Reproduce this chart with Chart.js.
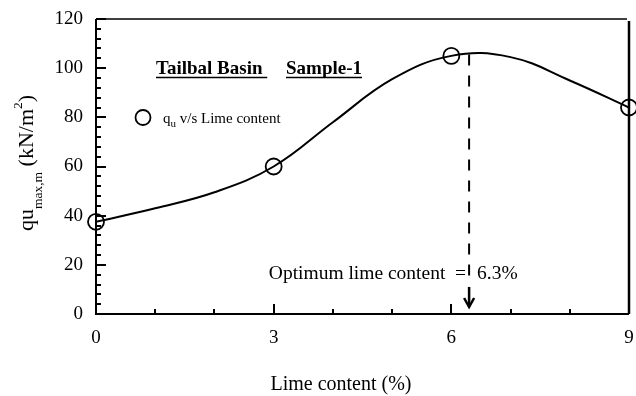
<!DOCTYPE html>
<html>
<head>
<meta charset="utf-8">
<script src="https://cdn.jsdelivr.net/npm/chart.js@4/dist/chart.umd.min.js"></script>
<style>
  html, body { margin: 0; padding: 0; background: #ffffff; }
  #wrap { width: 636px; height: 396px; position: relative; }
</style>
</head>
<body>
<div id="wrap"><canvas id="chart" width="636" height="396"></canvas></div>
<script>
// Measured points: unconfined strength vs lime content
const limeContent = [0, 3, 6, 9];
const quValues = [37.5, 60, 105, 84];

// Smooth fitted curve through the measured points
const fitLime = [0, 1, 2, 3, 4, 5, 6, 7, 8, 9];
const fitQu = [37.5, 43, 49.5, 60, 78, 95.5, 105, 104.5, 95, 84];

// Optimum marker
const optimumLime = 6.3;
const optimumQu = 105.6;
const optimumArrowEnd = 11;

// Axis ticks
const xTickValues = [0, 3, 6, 9];
const xMinorTicks = [1, 2, 4, 5, 7, 8];
const yTickValues = [0, 20, 40, 60, 80, 100, 120];
const yMinorTicks = [4, 8, 12, 16, 24, 28, 32, 36, 44, 48, 52, 56, 64, 68, 72, 76, 84, 88, 92, 96, 104, 108, 112, 116];

const SERIF = '"Liberation Serif", "Times New Roman", serif';

const frame = {
  id: 'frame',
  afterDatasetsDraw(chart) {
    const { ctx, chartArea: a, scales: { x, y } } = chart;
    ctx.save();
    ctx.strokeStyle = '#000';
    ctx.lineCap = 'butt';

    // axis box
    ctx.lineWidth = 2;
    ctx.beginPath(); ctx.moveTo(a.left, a.top); ctx.lineTo(a.left, a.bottom); ctx.lineTo(a.right, a.bottom); ctx.stroke();
    ctx.lineWidth = 1.5;
    ctx.beginPath(); ctx.moveTo(a.left, a.top); ctx.lineTo(a.right - 2, a.top); ctx.stroke();
    ctx.lineWidth = 2.5;
    ctx.beginPath(); ctx.moveTo(a.right, a.top + 2); ctx.lineTo(a.right, a.bottom); ctx.stroke();

    // inward ticks
    ctx.lineWidth = 2;
    yTickValues.forEach(v => {
      const py = Math.round(y.getPixelForValue(v));
      ctx.beginPath(); ctx.moveTo(a.left, py); ctx.lineTo(a.left + 10, py); ctx.stroke();
    });
    yMinorTicks.forEach(v => {
      const py = Math.round(y.getPixelForValue(v));
      ctx.beginPath(); ctx.moveTo(a.left, py); ctx.lineTo(a.left + 5, py); ctx.stroke();
    });
    xTickValues.forEach(v => {
      const px = Math.round(x.getPixelForValue(v));
      ctx.beginPath(); ctx.moveTo(px, a.bottom); ctx.lineTo(px, a.bottom - 10); ctx.stroke();
    });
    xMinorTicks.forEach(v => {
      const px = Math.round(x.getPixelForValue(v));
      ctx.beginPath(); ctx.moveTo(px, a.bottom); ctx.lineTo(px, a.bottom - 5); ctx.stroke();
    });

    // optimum dashed drop line and arrow
    const ox = x.getPixelForValue(optimumLime);
    const oTop = y.getPixelForValue(optimumQu);
    const oBot = y.getPixelForValue(optimumArrowEnd);
    ctx.lineWidth = 2;
    ctx.setLineDash([11, 10]);
    ctx.beginPath(); ctx.moveTo(ox, oTop); ctx.lineTo(ox, oBot - 4); ctx.stroke();
    ctx.setLineDash([]);
    ctx.lineWidth = 2.5;
    ctx.beginPath(); ctx.moveTo(ox, oBot); ctx.lineTo(ox, a.bottom - 7); ctx.stroke();
    ctx.beginPath();
    ctx.moveTo(ox - 5, a.bottom - 16); ctx.lineTo(ox, a.bottom - 7); ctx.lineTo(ox + 5, a.bottom - 16);
    ctx.stroke();

    ctx.fillStyle = '#000';
    ctx.textBaseline = 'alphabetic';

    // optimum text
    ctx.font = '19.5px ' + SERIF;
    ctx.textAlign = 'right';
    ctx.fillText('Optimum lime content  =', ox - 3, a.bottom - 35);
    ctx.textAlign = 'left';
    ctx.fillText('6.3%', ox + 8, a.bottom - 35);

    // site title, bold and underlined
    ctx.font = 'bold 19px ' + SERIF;
    const drawUnder = (txt, tx, ty) => {
      ctx.fillText(txt, tx, ty);
      const w = ctx.measureText(txt).width;
      ctx.lineWidth = 1.5;
      ctx.beginPath(); ctx.moveTo(tx, ty + 3.5); ctx.lineTo(tx + w, ty + 3.5); ctx.stroke();
    };
    drawUnder('Tailbal Basin ', 156, 74);
    drawUnder('Sample-1', 286, 74);

    // legend entry
    ctx.lineWidth = 1.8;
    ctx.beginPath(); ctx.arc(143, 117.5, 7.5, 0, Math.PI * 2); ctx.stroke();
    let lx = 163;
    ctx.font = '15px ' + SERIF;
    ctx.fillText('q', lx, 123); lx += ctx.measureText('q').width;
    ctx.font = '11px ' + SERIF;
    ctx.fillText('u', lx, 127); lx += ctx.measureText('u').width;
    ctx.font = '15px ' + SERIF;
    ctx.fillText(' v/s Lime content', lx, 123);

    // rotated y-axis title with sub/superscripts
    const parts = [
      ['q', 22, 0], ['u', 22, 0], ['max,m', 13.5, 9], [' (kN/m', 22, 0], ['2', 13.5, -11], [')', 22, 0]
    ];
    let total = 0;
    parts.forEach(p => { ctx.font = p[1] + 'px ' + SERIF; total += ctx.measureText(p[0]).width; });
    ctx.translate(33, 163);
    ctx.rotate(-Math.PI / 2);
    let tx = -total / 2;
    parts.forEach(p => {
      ctx.font = p[1] + 'px ' + SERIF;
      ctx.fillText(p[0], tx, p[2]);
      tx += ctx.measureText(p[0]).width;
    });
    ctx.restore();

    // x-axis title
    ctx.save();
    ctx.fillStyle = '#000';
    ctx.font = '20px ' + SERIF;
    ctx.textAlign = 'center';
    ctx.textBaseline = 'alphabetic';
    ctx.fillText('Lime content (%)', 341, 390);
    ctx.restore();
  }
};

new Chart(document.getElementById('chart'), {
  type: 'scatter',
  data: {
    datasets: [
      {
        label: 'fit',
        data: fitLime.map((v, i) => ({ x: v, y: fitQu[i] })),
        showLine: true,
        borderColor: '#000',
        borderWidth: 2,
        pointRadius: 0,
        tension: 0.4,
        fill: false,
        order: 2
      },
      {
        label: 'qu v/s Lime content',
        data: limeContent.map((v, i) => ({ x: v, y: quValues[i] })),
        showLine: false,
        pointStyle: 'circle',
        pointRadius: 8,
        pointBorderWidth: 1.8,
        pointBorderColor: '#000',
        pointBackgroundColor: 'rgba(0,0,0,0)',
        clip: false,
        order: 1
      }
    ]
  },
  options: {
    responsive: false,
    animation: false,
    events: [],
    layout: { autoPadding: false, padding: { top: 19, right: 7, left: 0, bottom: 0 } },
    plugins: { legend: { display: false }, tooltip: { enabled: false } },
    scales: {
      x: {
        type: 'linear', min: 0, max: 9,
        afterBuildTicks: s => { s.ticks = xTickValues.map(v => ({ value: v })); },
        afterFit: s => { s.height = 82; s.paddingLeft = 0; s.paddingRight = 0; },
        grid: { display: false, drawTicks: false },
        border: { display: false },
        ticks: { color: '#000', font: { family: SERIF, size: 19 }, padding: 13, maxRotation: 0 }
      },
      y: {
        type: 'linear', min: 0, max: 120,
        afterBuildTicks: s => { s.ticks = yTickValues.map(v => ({ value: v })); },
        afterFit: s => { s.width = 96; s.paddingTop = 0; s.paddingBottom = 0; },
        grid: { display: false, drawTicks: false },
        border: { display: false },
        ticks: { color: '#000', font: { family: SERIF, size: 19 }, padding: 13 }
      }
    }
  },
  plugins: [frame]
});
</script>
</body>
</html>
